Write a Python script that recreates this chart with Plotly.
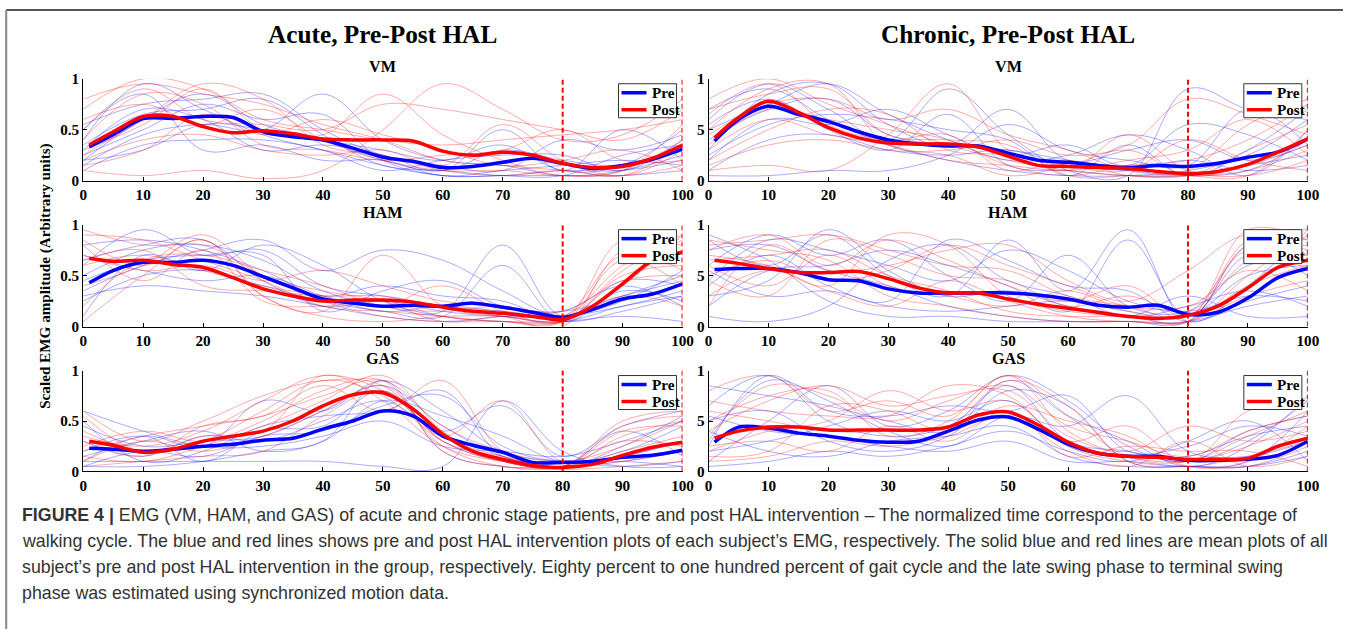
import plotly.graph_objects as go
from plotly.subplots import make_subplots

# ---------------- data ----------------
X_MEAN = [1, 5, 10, 15, 20, 25, 30, 35, 40, 45, 50, 55, 60, 65, 70, 75, 80, 85, 90, 95, 100]
X_SUBJ = [0, 10, 20, 30, 40, 50, 60, 70, 80, 90, 100]
X_TICKS = [0, 10, 20, 30, 40, 50, 60, 70, 80, 90, 100]
PHASE_LINES = [80, 100]

GROUPS = ["Acute, Pre-Post HAL", "Chronic, Pre-Post HAL"]
MUSCLES = ["VM", "HAM", "GAS"]
SERIES_NAMES = ["Pre", "Post"]
Y_TICKVALS = [0, 0.5, 1]
Y_TICKTEXT_ACUTE = ["0", "0.5", "1"]
Y_TICKTEXT_CHRONIC = ["0", "5", "1"]

# mean curves
acute_vm_pre = [0.33, 0.45, 0.61, 0.61, 0.63, 0.62, 0.48, 0.43, 0.40, 0.32, 0.23, 0.19, 0.13, 0.14, 0.18, 0.22, 0.17, 0.12, 0.15, 0.21, 0.31]
acute_vm_post = [0.35, 0.48, 0.63, 0.63, 0.53, 0.47, 0.49, 0.46, 0.41, 0.40, 0.40, 0.39, 0.29, 0.25, 0.28, 0.25, 0.17, 0.13, 0.14, 0.22, 0.35]
acute_ham_pre = [0.43, 0.55, 0.63, 0.63, 0.65, 0.60, 0.49, 0.38, 0.27, 0.23, 0.20, 0.21, 0.20, 0.23, 0.19, 0.14, 0.09, 0.17, 0.27, 0.32, 0.42]
acute_ham_post = [0.67, 0.64, 0.65, 0.61, 0.58, 0.48, 0.37, 0.30, 0.25, 0.26, 0.26, 0.24, 0.19, 0.15, 0.13, 0.10, 0.07, 0.20, 0.42, 0.65, 0.73]
acute_gas_pre = [0.23, 0.22, 0.20, 0.22, 0.25, 0.27, 0.31, 0.33, 0.42, 0.50, 0.60, 0.55, 0.35, 0.26, 0.19, 0.09, 0.09, 0.10, 0.14, 0.16, 0.21]
acute_gas_post = [0.30, 0.26, 0.19, 0.22, 0.30, 0.35, 0.40, 0.50, 0.65, 0.76, 0.78, 0.62, 0.37, 0.20, 0.12, 0.06, 0.04, 0.07, 0.16, 0.24, 0.29]
chronic_vm_pre = [0.39, 0.60, 0.73, 0.65, 0.58, 0.48, 0.40, 0.36, 0.34, 0.34, 0.27, 0.20, 0.18, 0.15, 0.13, 0.15, 0.14, 0.17, 0.23, 0.28, 0.41]
chronic_vm_post = [0.42, 0.62, 0.78, 0.67, 0.52, 0.42, 0.37, 0.36, 0.36, 0.33, 0.24, 0.15, 0.14, 0.13, 0.12, 0.09, 0.07, 0.09, 0.16, 0.28, 0.41]
chronic_ham_pre = [0.56, 0.57, 0.57, 0.53, 0.46, 0.45, 0.37, 0.33, 0.33, 0.33, 0.33, 0.31, 0.27, 0.21, 0.19, 0.21, 0.12, 0.14, 0.28, 0.48, 0.57]
chronic_ham_post = [0.65, 0.62, 0.57, 0.53, 0.53, 0.54, 0.47, 0.38, 0.33, 0.33, 0.27, 0.22, 0.18, 0.14, 0.10, 0.08, 0.11, 0.20, 0.38, 0.58, 0.65]
chronic_gas_pre = [0.29, 0.44, 0.43, 0.38, 0.35, 0.31, 0.29, 0.30, 0.40, 0.51, 0.54, 0.42, 0.27, 0.18, 0.15, 0.15, 0.11, 0.11, 0.12, 0.16, 0.30]
chronic_gas_post = [0.33, 0.40, 0.44, 0.44, 0.41, 0.41, 0.41, 0.41, 0.44, 0.56, 0.59, 0.46, 0.29, 0.18, 0.15, 0.14, 0.12, 0.12, 0.13, 0.25, 0.33]

# individual subjects (estimated at 10 % steps)
acute_vm_pre_subj = [
    [0.40, 0.95, 0.70, 0.45, 0.30, 0.15, 0.05, 0.05, 0.10, 0.10, 0.20],
    [0.20, 0.60, 0.85, 0.55, 0.40, 0.20, 0.10, 0.30, 0.20, 0.15, 0.30],
    [0.55, 0.75, 0.80, 0.85, 0.50, 0.25, 0.15, 0.10, 0.40, 0.30, 0.45],
    [0.15, 0.45, 0.55, 0.50, 0.85, 0.40, 0.20, 0.15, 0.05, 0.10, 0.25],
    [0.30, 0.70, 0.60, 0.30, 0.35, 0.25, 0.10, 0.50, 0.10, 0.50, 0.20],
    [0.25, 0.50, 0.75, 0.60, 0.65, 0.20, 0.05, 0.05, 0.05, 0.05, 0.10],
    [0.10, 0.35, 0.40, 0.40, 0.30, 0.10, 0.20, 0.25, 0.25, 0.10, 0.40],
    [0.50, 0.85, 0.30, 0.35, 0.20, 0.20, 0.05, 0.10, 0.15, 0.20, 0.15],
    [0.35, 0.65, 0.70, 0.80, 0.45, 0.15, 0.10, 0.05, 0.05, 0.25, 0.35],
    [0.20, 0.30, 0.55, 0.50, 0.40, 0.30, 0.20, 0.35, 0.10, 0.15, 0.50],
]
acute_vm_post_subj = [
    [0.70, 1.00, 0.90, 0.60, 0.50, 0.40, 0.35, 0.40, 0.45, 0.50, 0.60],
    [0.10, 0.05, 0.10, 0.02, 0.10, 0.50, 0.95, 0.70, 0.40, 0.45, 0.80],
    [0.80, 0.95, 0.85, 0.75, 0.55, 0.40, 0.20, 0.15, 0.10, 0.05, 0.15],
    [0.30, 0.55, 0.90, 0.50, 0.45, 0.85, 0.45, 0.20, 0.05, 0.10, 0.40],
    [0.50, 0.90, 0.60, 0.55, 0.50, 0.75, 0.70, 0.60, 0.50, 0.40, 0.70],
    [0.20, 0.40, 0.45, 0.30, 0.25, 0.30, 0.15, 0.55, 0.20, 0.05, 0.30],
    [0.60, 0.75, 0.55, 0.70, 0.40, 0.20, 0.10, 0.10, 0.05, 0.10, 0.55],
    [0.15, 0.30, 0.65, 0.45, 0.60, 0.45, 0.30, 0.15, 0.20, 0.30, 0.10],
    [0.40, 0.85, 0.75, 0.35, 0.30, 0.20, 0.25, 0.30, 0.50, 0.20, 0.20],
    [0.25, 0.60, 0.95, 0.80, 0.35, 0.25, 0.10, 0.05, 0.10, 0.05, 0.35],
]
acute_ham_pre_subj = [
    [0.60, 0.95, 0.70, 0.75, 0.40, 0.30, 0.20, 0.10, 0.05, 0.20, 0.30],
    [0.35, 0.60, 0.75, 0.85, 0.55, 0.75, 0.65, 0.35, 0.10, 0.30, 0.50],
    [0.50, 0.75, 0.80, 0.65, 0.35, 0.20, 0.15, 0.80, 0.10, 0.45, 0.40],
    [0.10, 0.70, 0.55, 0.80, 0.60, 0.25, 0.10, 0.05, 0.05, 0.10, 0.05],
    [0.70, 0.55, 0.45, 0.50, 0.30, 0.15, 0.20, 0.15, 0.10, 0.25, 0.55],
    [0.30, 0.40, 0.35, 0.30, 0.20, 0.10, 0.05, 0.10, 0.15, 0.40, 0.20],
    [0.80, 0.85, 0.75, 0.55, 0.30, 0.40, 0.30, 0.25, 0.05, 0.15, 0.30],
    [0.45, 0.65, 0.70, 0.70, 0.15, 0.35, 0.45, 0.20, 0.15, 0.30, 0.45],
    [0.25, 0.50, 0.55, 0.40, 0.25, 0.15, 0.10, 0.60, 0.05, 0.35, 0.25],
    [0.65, 0.80, 0.85, 0.45, 0.20, 0.25, 0.15, 0.10, 0.10, 0.20, 0.35],
]
acute_ham_post_subj = [
    [0.95, 0.80, 0.80, 0.50, 0.25, 0.10, 0.05, 0.05, 0.05, 0.40, 0.90],
    [0.85, 0.60, 0.85, 0.30, 0.15, 0.70, 0.20, 0.10, 0.00, 0.75, 0.80],
    [0.60, 0.70, 0.55, 0.40, 0.30, 0.20, 0.40, 0.15, 0.05, 0.50, 0.60],
    [0.20, 0.65, 0.70, 0.55, 0.40, 0.20, 0.15, 0.20, 0.10, 0.70, 0.55],
    [0.80, 0.45, 0.75, 0.25, 0.20, 0.25, 0.10, 0.05, 0.05, 0.85, 0.70],
    [0.70, 0.55, 0.60, 0.45, 0.55, 0.40, 0.25, 0.20, 0.15, 0.45, 0.50],
    [0.05, 0.50, 0.85, 0.30, 0.10, 0.05, 0.10, 0.10, 0.05, 0.30, 0.20],
    [0.65, 0.75, 0.40, 0.35, 0.30, 0.30, 0.20, 0.15, 0.10, 0.60, 0.90],
    [0.90, 0.85, 0.65, 0.45, 0.20, 0.15, 0.10, 0.05, 0.05, 0.55, 0.85],
    [0.40, 0.60, 0.90, 0.50, 0.35, 0.25, 0.05, 0.10, 0.05, 0.65, 0.40],
]
acute_gas_pre_subj = [
    [0.10, 0.35, 0.25, 0.70, 0.60, 0.90, 0.60, 0.20, 0.10, 0.10, 0.05],
    [0.30, 0.15, 0.35, 0.30, 0.50, 0.70, 0.40, 0.65, 0.15, 0.45, 0.60],
    [0.50, 0.10, 0.20, 0.45, 0.55, 0.60, 0.80, 0.15, 0.10, 0.05, 0.10],
    [0.05, 0.05, 0.10, 0.20, 0.30, 0.90, 0.20, 0.05, 0.05, 0.10, 0.20],
    [0.20, 0.35, 0.10, 0.40, 0.45, 0.80, 0.30, 0.10, 0.05, 0.40, 0.15],
    [0.10, 0.10, 0.10, 0.10, 0.10, 0.05, 0.05, 0.70, 0.20, 0.05, 0.05],
    [0.60, 0.40, 0.25, 0.25, 0.35, 0.50, 0.25, 0.20, 0.15, 0.30, 0.50],
    [0.15, 0.30, 0.40, 0.20, 0.30, 0.70, 0.55, 0.35, 0.10, 0.20, 0.45],
    [0.45, 0.25, 0.30, 0.35, 0.60, 0.85, 0.45, 0.15, 0.05, 0.25, 0.55],
    [0.05, 0.20, 0.15, 0.35, 0.40, 0.65, 0.75, 0.25, 0.10, 0.15, 0.30],
]
acute_gas_post_subj = [
    [0.60, 0.30, 0.50, 0.75, 0.90, 0.85, 0.30, 0.15, 0.05, 0.20, 0.35],
    [0.55, 0.20, 0.35, 0.40, 0.95, 0.70, 0.25, 0.10, 0.05, 0.50, 0.60],
    [0.25, 0.40, 0.30, 0.50, 0.80, 0.90, 0.20, 0.05, 0.05, 0.15, 0.30],
    [0.15, 0.10, 0.25, 0.45, 0.70, 0.95, 0.40, 0.10, 0.05, 0.10, 0.20],
    [0.30, 0.15, 0.45, 0.55, 0.85, 0.60, 0.90, 0.20, 0.05, 0.35, 0.50],
    [0.10, 0.30, 0.20, 0.35, 0.60, 0.85, 0.35, 0.70, 0.10, 0.30, 0.25],
    [0.40, 0.20, 0.30, 0.60, 0.90, 0.75, 0.30, 0.10, 0.05, 0.45, 0.55],
    [0.05, 0.10, 0.15, 0.20, 0.55, 0.80, 0.25, 0.05, 0.02, 0.05, 0.10],
    [0.35, 0.25, 0.40, 0.70, 0.95, 0.80, 0.35, 0.15, 0.05, 0.40, 0.45],
    [0.20, 0.35, 0.45, 0.55, 0.75, 0.90, 0.45, 0.20, 0.10, 0.25, 0.50],
]
chronic_vm_pre_subj = [
    [0.60, 0.95, 0.70, 0.40, 0.90, 0.45, 0.10, 0.05, 0.90, 0.70, 0.60],
    [0.30, 0.85, 0.95, 0.55, 0.35, 0.70, 0.20, 0.30, 0.40, 0.20, 0.35],
    [0.20, 0.60, 0.55, 0.70, 0.45, 0.25, 0.35, 0.15, 0.55, 0.45, 0.20],
    [0.70, 0.90, 0.60, 0.35, 0.20, 0.10, 0.05, 0.05, 0.10, 0.25, 0.60],
    [0.10, 0.40, 0.45, 0.30, 0.25, 0.30, 0.15, 0.10, 0.05, 0.10, 0.40],
    [0.50, 0.75, 0.95, 0.65, 0.40, 0.20, 0.25, 0.45, 0.30, 0.05, 0.50],
    [0.05, 0.05, 0.10, 0.10, 0.25, 0.55, 0.30, 0.20, 0.15, 0.70, 0.35],
    [0.40, 0.70, 0.80, 0.45, 0.35, 0.30, 0.20, 0.10, 0.20, 0.10, 0.15],
    [0.25, 0.55, 0.65, 0.60, 0.50, 0.40, 0.05, 0.35, 0.05, 0.30, 0.70],
    [0.55, 0.80, 0.50, 0.30, 0.65, 0.15, 0.10, 0.05, 0.05, 0.15, 0.25],
]
chronic_vm_post_subj = [
    [0.80, 1.00, 0.75, 0.55, 0.35, 0.20, 0.10, 0.05, 0.05, 0.30, 0.55],
    [0.10, 0.15, 0.10, 0.45, 0.95, 0.30, 0.15, 0.10, 0.40, 0.20, 0.10],
    [0.50, 0.90, 0.95, 0.35, 0.30, 0.40, 0.25, 0.35, 0.80, 0.65, 0.45],
    [0.35, 0.70, 0.60, 0.50, 0.40, 0.15, 0.05, 0.15, 0.20, 0.40, 0.75],
    [0.65, 0.95, 0.55, 0.40, 0.45, 0.10, 0.20, 0.05, 0.05, 0.10, 0.30],
    [0.20, 0.50, 0.70, 0.65, 0.30, 0.25, 0.10, 0.45, 0.10, 0.05, 0.20],
    [0.70, 0.85, 0.90, 0.45, 0.40, 0.35, 0.05, 0.05, 0.10, 0.55, 0.80],
    [0.15, 0.35, 0.40, 0.30, 0.25, 0.05, 0.15, 0.30, 0.05, 0.15, 0.35],
    [0.45, 0.75, 0.80, 0.60, 0.70, 0.45, 0.30, 0.10, 0.05, 0.05, 0.50],
    [0.30, 0.60, 0.45, 0.35, 0.20, 0.15, 0.10, 0.20, 0.30, 0.60, 0.25],
]
chronic_ham_pre_subj = [
    [0.85, 0.60, 0.90, 0.50, 0.30, 0.85, 0.35, 0.95, 0.05, 0.40, 0.95],
    [0.10, 0.05, 0.20, 0.65, 0.80, 0.45, 0.30, 0.10, 0.20, 0.35, 0.20],
    [0.60, 0.90, 0.70, 0.85, 0.50, 0.25, 0.70, 0.20, 0.15, 0.60, 0.70],
    [0.40, 0.70, 0.40, 0.25, 0.85, 0.65, 0.40, 0.35, 0.05, 0.25, 0.40],
    [0.75, 0.80, 0.55, 0.40, 0.20, 0.10, 0.05, 0.05, 0.05, 0.80, 0.85],
    [0.30, 0.45, 0.95, 0.55, 0.30, 0.35, 0.20, 0.10, 0.30, 0.10, 0.10],
    [0.55, 0.30, 0.35, 0.20, 0.15, 0.20, 0.25, 0.15, 0.10, 0.50, 0.60],
    [0.20, 0.55, 0.60, 0.75, 0.60, 0.40, 0.15, 0.85, 0.10, 0.70, 0.50],
    [0.90, 0.65, 0.25, 0.10, 0.10, 0.05, 0.05, 0.05, 0.05, 0.20, 0.30],
    [0.45, 0.85, 0.75, 0.60, 0.45, 0.75, 0.55, 0.25, 0.15, 0.30, 0.25],
]
chronic_ham_post_subj = [
    [0.80, 0.85, 0.90, 0.75, 0.60, 0.55, 0.30, 0.20, 0.10, 0.85, 0.95],
    [0.70, 0.60, 0.40, 0.90, 0.80, 0.30, 0.15, 0.10, 0.05, 0.50, 0.90],
    [0.20, 0.80, 0.55, 0.60, 0.75, 0.80, 0.45, 0.25, 0.55, 0.90, 0.70],
    [0.60, 0.40, 0.70, 0.40, 0.30, 0.20, 0.35, 0.15, 0.10, 0.65, 0.80],
    [0.85, 0.75, 0.65, 0.30, 0.20, 0.10, 0.05, 0.05, 0.05, 0.40, 0.60],
    [0.45, 0.30, 0.85, 0.70, 0.50, 0.45, 0.20, 0.30, 0.15, 0.75, 0.55],
    [0.30, 0.55, 0.35, 0.20, 0.45, 0.25, 0.10, 0.05, 0.05, 0.30, 0.45],
    [0.75, 0.90, 0.60, 0.85, 0.65, 0.40, 0.25, 0.40, 0.10, 0.95, 0.85],
    [0.50, 0.65, 0.45, 0.55, 0.80, 0.60, 0.40, 0.20, 0.20, 0.55, 0.35],
    [0.65, 0.70, 0.75, 0.50, 0.35, 0.15, 0.10, 0.10, 0.05, 0.80, 0.75],
]
chronic_gas_pre_subj = [
    [0.65, 0.95, 0.50, 0.35, 0.45, 0.85, 0.30, 0.20, 0.10, 0.30, 0.70],
    [0.30, 0.90, 0.70, 0.40, 0.25, 0.55, 0.45, 0.75, 0.20, 0.15, 0.30],
    [0.10, 0.50, 0.85, 0.45, 0.60, 0.95, 0.70, 0.25, 0.10, 0.40, 0.55],
    [0.50, 0.60, 0.30, 0.20, 0.35, 0.80, 0.65, 0.10, 0.05, 0.05, 0.20],
    [0.20, 0.30, 0.45, 0.60, 0.50, 0.70, 0.25, 0.15, 0.15, 0.35, 0.45],
    [0.05, 0.10, 0.20, 0.15, 0.25, 0.40, 0.20, 0.10, 0.30, 0.50, 0.10],
    [0.85, 0.75, 0.65, 0.50, 0.40, 0.90, 0.55, 0.30, 0.05, 0.25, 0.75],
    [0.40, 0.20, 0.15, 0.30, 0.35, 0.45, 0.15, 0.05, 0.05, 0.05, 0.15],
    [0.25, 0.95, 0.60, 0.55, 0.65, 0.60, 0.75, 0.20, 0.25, 0.45, 0.35],
    [0.55, 0.40, 0.35, 0.25, 0.20, 0.30, 0.10, 0.10, 0.05, 0.10, 0.60],
]
chronic_gas_post_subj = [
    [0.80, 0.95, 0.60, 0.70, 0.55, 0.95, 0.40, 0.15, 0.10, 0.25, 0.50],
    [0.40, 0.70, 0.85, 0.65, 0.75, 0.80, 0.35, 0.20, 0.45, 0.30, 0.40],
    [0.20, 0.40, 0.50, 0.80, 0.60, 0.70, 0.30, 0.45, 0.10, 0.60, 0.70],
    [0.60, 0.50, 0.40, 0.40, 0.45, 0.90, 0.65, 0.10, 0.05, 0.15, 0.30],
    [0.10, 0.15, 0.30, 0.25, 0.35, 0.55, 0.20, 0.05, 0.30, 0.05, 0.15],
    [0.35, 0.85, 0.75, 0.50, 0.70, 0.85, 0.45, 0.30, 0.15, 0.40, 0.55],
    [0.70, 0.60, 0.55, 0.55, 0.85, 0.75, 0.25, 0.10, 0.05, 0.05, 0.25],
    [0.25, 0.30, 0.20, 0.45, 0.30, 0.60, 0.15, 0.25, 0.20, 0.20, 0.05],
    [0.50, 0.75, 0.80, 0.35, 0.50, 0.95, 0.55, 0.15, 0.10, 0.35, 0.60],
    [0.15, 0.20, 0.65, 0.60, 0.40, 0.65, 0.50, 0.35, 0.05, 0.10, 0.45],
]

CAPTION_LINES = [
    "<b>FIGURE 4 |</b> EMG (VM, HAM, and GAS) of acute and chronic stage patients, pre and post HAL intervention \u2013 The normalized time correspond to the percentage of",
    "walking cycle. The blue and red lines shows pre and post HAL intervention plots of each subject\u2019s EMG, respectively. The solid blue and red lines are mean plots of all",
    "subject\u2019s pre and post HAL intervention in the group, respectively. Eighty percent to one hundred percent of gait cycle and the late swing phase to terminal swing",
    "phase was estimated using synchronized motion data.",
]

PANELS = {
    (1, 1): (acute_vm_pre, acute_vm_post, acute_vm_pre_subj, acute_vm_post_subj),
    (2, 1): (acute_ham_pre, acute_ham_post, acute_ham_pre_subj, acute_ham_post_subj),
    (3, 1): (acute_gas_pre, acute_gas_post, acute_gas_pre_subj, acute_gas_post_subj),
    (1, 2): (chronic_vm_pre, chronic_vm_post, chronic_vm_pre_subj, chronic_vm_post_subj),
    (2, 2): (chronic_ham_pre, chronic_ham_post, chronic_ham_pre_subj, chronic_ham_post_subj),
    (3, 2): (chronic_gas_pre, chronic_gas_post, chronic_gas_pre_subj, chronic_gas_post_subj),
}

# ---------------- layout helpers ----------------
FW, FH = 1355, 637
# calibration of the captured picture against page pixels
AX, BX = 4.8, 0.9877
AY, BY = 8.2, 0.974
FS = 1.012  # font scale to match


def px(t):
    return max(1.0, (t - AX) / BX) / FW


def py(t):
    return 1 - max(1.0, (t - AY) / BY) / FH


SERIF = "Liberation Serif"
BLUE = "#0000FF"
RED = "#FF0000"
THIN_BLUE = "rgba(0,0,255,0.33)"
THIN_RED = "rgba(255,0,0,0.33)"

COL_PX = {1: (84, 683), 2: (709, 1308)}
ROW_PX = {1: (78, 180), 2: (224, 326), 3: (370, 471)}

fig = make_subplots(rows=3, cols=2)

shapes = []
annotations = []
tick_font = dict(family=SERIF, size=15 * FS, color="black", weight="bold")
for (r, c), (pre, post, pre_s, post_s) in PANELS.items():
    for s in pre_s:
        fig.add_trace(go.Scatter(x=X_SUBJ, y=s, mode="lines", line=dict(color=THIN_BLUE, width=1, shape="spline", smoothing=1.1),
                                 showlegend=False, hoverinfo="skip"), row=r, col=c)
    for s in post_s:
        fig.add_trace(go.Scatter(x=X_SUBJ, y=s, mode="lines", line=dict(color=THIN_RED, width=1, shape="spline", smoothing=1.1),
                                 showlegend=False, hoverinfo="skip"), row=r, col=c)
    fig.add_trace(go.Scatter(x=X_MEAN, y=pre, mode="lines", name=SERIES_NAMES[0],
                             line=dict(color=BLUE, width=3.5, shape="spline", smoothing=0.9), showlegend=False), row=r, col=c)
    fig.add_trace(go.Scatter(x=X_MEAN, y=post, mode="lines", name=SERIES_NAMES[1],
                             line=dict(color=RED, width=3.5, shape="spline", smoothing=0.9), showlegend=False), row=r, col=c)
    for v in PHASE_LINES:
        fig.add_shape(type="line", x0=v, x1=v, y0=0, y1=1, line=dict(color=RED, width=2, dash="5px,3px"), row=r, col=c)

    x0p, x1p = COL_PX[c]
    top, bot = ROW_PX[r]
    fig.update_xaxes(domain=[px(x0p), px(x1p)], range=[0, 100], tickvals=X_TICKS,
                     showline=True, linecolor="black", linewidth=1, ticks="inside", ticklen=4,
                     tickcolor="black", showgrid=False, zeroline=False, tickfont=tick_font, row=r, col=c)
    fig.update_yaxes(domain=[py(bot), py(top)], range=[0, 1], tickvals=Y_TICKVALS,
                     ticktext=Y_TICKTEXT_ACUTE if c == 1 else Y_TICKTEXT_CHRONIC,
                     showline=True, linecolor="black", linewidth=1, ticks="inside", ticklen=4,
                     tickcolor="black", showgrid=False, zeroline=False, tickfont=tick_font, row=r, col=c)

    # legend key (box, line samples, labels)
    bl, br = x1p - 64, x1p - 6
    bt, bb = top + 5, top + 39
    shapes.append(dict(type="rect", xref="paper", yref="paper", x0=px(bl), x1=px(br), y0=py(bb), y1=py(bt),
                       line=dict(color="#333333", width=1), fillcolor="white", layer="above"))
    for i, (name, col) in enumerate(zip(SERIES_NAMES, [BLUE, RED])):
        yy = top + 14 + 17 * i
        shapes.append(dict(type="line", xref="paper", yref="paper", x0=px(bl + 3), x1=px(bl + 28), y0=py(yy), y1=py(yy),
                           line=dict(color=col, width=3.5), layer="above"))
        annotations.append(dict(x=px(bl + 31), y=py(yy), xref="paper", yref="paper", text=name, showarrow=False,
                                xanchor="left", yanchor="middle",
                                font=dict(family=SERIF, size=15 * FS, color="black", weight="bold")))

# group titles and muscle titles
for c, g in enumerate(GROUPS, start=1):
    x0p, x1p = COL_PX[c]
    cx = px((x0p + x1p) / 2)
    annotations.append(dict(x=cx, y=py(33), xref="paper", yref="paper", text=g, showarrow=False,
                            xanchor="center", yanchor="middle",
                            font=dict(family=SERIF, size=25 * FS, color="black", weight="bold")))
    for r, m in enumerate(MUSCLES, start=1):
        annotations.append(dict(x=cx, y=py(ROW_PX[r][0] - 12), xref="paper", yref="paper", text=m,
                                showarrow=False, xanchor="center", yanchor="middle",
                                font=dict(family=SERIF, size=16 * FS, color="black", weight="bold")))
# y axis title
annotations.append(dict(x=px(45), y=py(275), xref="paper", yref="paper", text="Scaled EMG amplitude (Arbitrary units)",
                        showarrow=False, textangle=-90, xanchor="center", yanchor="middle",
                        font=dict(family=SERIF, size=15 * FS, color="black", weight="bold")))
# caption
for i, line in enumerate(CAPTION_LINES):
    annotations.append(dict(x=px(21), y=py(515 + 26 * i), xref="paper", yref="paper", text=line, showarrow=False,
                            xanchor="left", yanchor="middle", align="left",
                            font=dict(family="Liberation Sans", size=17.8, color="#333333")))

# outer frame (top and left)
shapes.append(dict(type="line", xref="paper", yref="paper", x0=px(7), x1=1, y0=py(8), y1=py(8),
                   line=dict(color="#555555", width=2)))
shapes.append(dict(type="line", xref="paper", yref="paper", x0=px(7), x1=px(7), y0=0, y1=py(8),
                   line=dict(color="#888888", width=2)))
for s in shapes:
    fig.add_shape(**s)

fig.update_layout(
    width=FW, height=FH, margin=dict(l=0, r=0, t=0, b=0),
    paper_bgcolor="white", plot_bgcolor="white",
    annotations=annotations, hovermode=False, showlegend=False,
)

# remove the default page margin so the figure fills the window exactly
fig.write_html("out.html", config={"displayModeBar": False},
               post_script="document.body.style.margin='0';document.body.style.overflow='hidden';")
